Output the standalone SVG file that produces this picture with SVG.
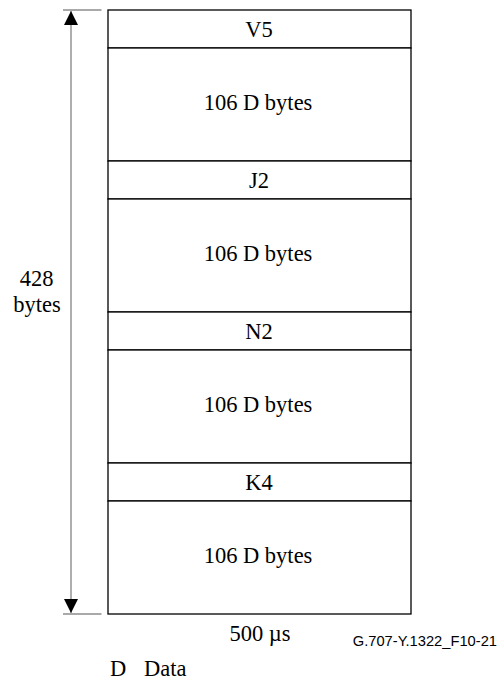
<svg xmlns="http://www.w3.org/2000/svg" width="503" height="680" viewBox="0 0 503 680">
<style>
.box{fill:#fff;stroke:#000;stroke-width:1.3}
.t{font-family:"Liberation Serif",serif;font-size:22.5px;text-anchor:middle;fill:#000}
.dim{stroke:#8c8c8c;stroke-width:1.4;fill:none}
</style>
<defs>
<marker id="ah" viewBox="0 0 14 14" refX="14" refY="7" markerWidth="14" markerHeight="14" markerUnits="userSpaceOnUse" orient="auto">
<path d="M0,0 L14,7 L0,14 Z" fill="#000"/>
</marker>
</defs>
<g id="connectors">
<line class="dim" x1="63" y1="10" x2="101.5" y2="10"/>
<line class="dim" x1="63" y1="614" x2="101.5" y2="614"/>
<line class="dim" x1="71" y1="310" x2="71" y2="11" marker-end="url(#ah)"/>
<line class="dim" x1="71" y1="310" x2="71" y2="613" marker-end="url(#ah)"/>
</g>
<g id="v5"><rect class="box" x="108" y="10" width="303" height="38"/><text class="t" x="259" y="37">V5</text></g>
<g id="d1"><rect class="box" x="108" y="48" width="303" height="113"/><text class="t" x="258" y="110">106 D bytes</text></g>
<g id="j2"><rect class="box" x="108" y="161" width="303" height="38"/><text class="t" x="259" y="188">J2</text></g>
<g id="d2"><rect class="box" x="108" y="199" width="303" height="113"/><text class="t" x="258" y="261">106 D bytes</text></g>
<g id="n2"><rect class="box" x="108" y="312" width="303" height="38"/><text class="t" x="259" y="339">N2</text></g>
<g id="d3"><rect class="box" x="108" y="350" width="303" height="113"/><text class="t" x="258" y="412">106 D bytes</text></g>
<g id="k4"><rect class="box" x="108" y="463" width="303" height="38"/><text class="t" x="259" y="490">K4</text></g>
<g id="d4"><rect class="box" x="108" y="501" width="303" height="113"/><text class="t" x="258" y="563">106 D bytes</text></g>
<g id="labels">
<text class="t" x="36.5" y="286">428</text>
<text class="t" x="37" y="312">bytes</text>
<text class="t" x="260" y="641">500 µs</text>
<text x="497" y="646" style="font-family:'Liberation Sans',sans-serif;font-size:14.7px;text-anchor:end;fill:#000">G.707-Y.1322_F10-21</text>
<text class="t" x="110" y="676" style="text-anchor:start">D</text>
<text class="t" x="144" y="676" style="text-anchor:start">Data</text>
</g>
</svg>
